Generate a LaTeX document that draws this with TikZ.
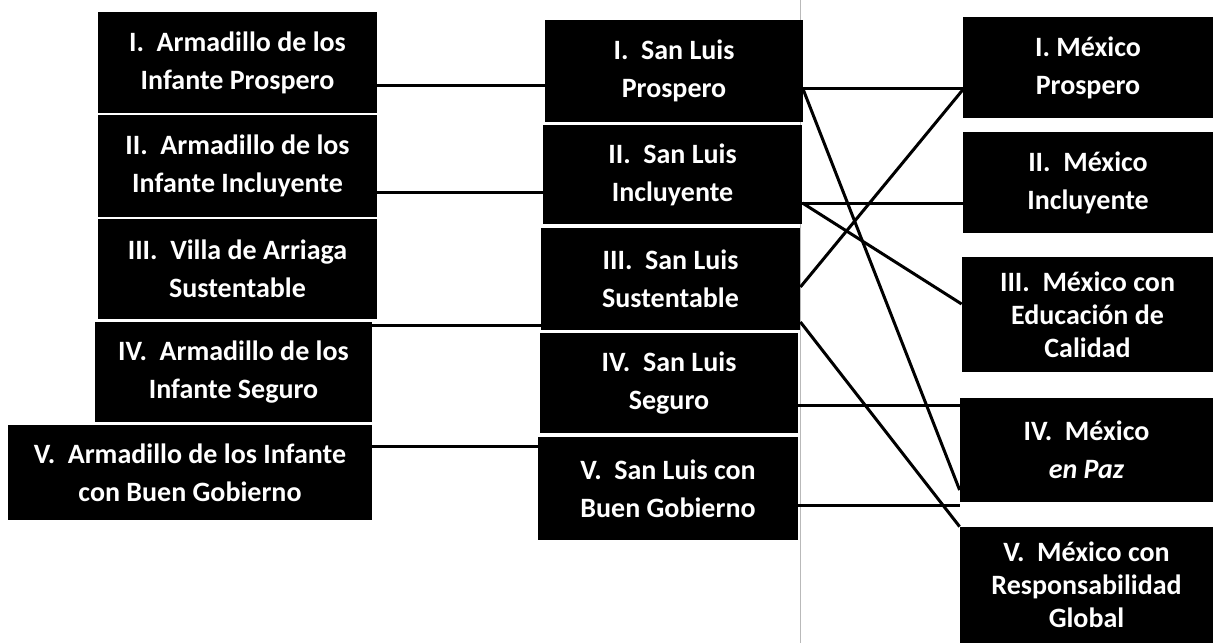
\documentclass[tikz,border=0pt]{standalone}
\usepackage{fontspec}
\setmainfont{Carlito}
\tikzset{
  box/.style={fill=black, text=white, inner sep=0pt, align=center,
    font=\fontsize{14}{19}\selectfont\bfseries},
  tightbox/.style={box, font=\fontsize{14}{16.5}\selectfont\bfseries},
  link/.style={line width=1.5pt, black},
}
\begin{document}
\begin{tikzpicture}[x=0.5pt, y=-0.5pt]
  \useasboundingbox (0,0) rectangle (1213,643);
  % Gutter of the scan
  \draw[gray!55, line width=0.4pt] (800,0) -- (800,643);

  % Armadillo de los Infante
  \node[box, minimum width=139.5pt, minimum height=50.5pt] (arm1) at (237.5,62.5) {I.\hspace{0.45em}Armadillo de los\\Infante Prospero};
  \node[box, minimum width=139.5pt, minimum height=51pt] (arm2) at (237.5,166) {II.\hspace{0.45em}Armadillo de los\\Infante Incluyente};
  \node[box, minimum width=139.5pt, minimum height=50pt] (arm3) at (237.5,269) {III.\hspace{0.45em}Villa de Arriaga\\Sustentable};
  \node[box, minimum width=138.5pt, minimum height=50pt] (arm4) at (233.5,372) {IV.\hspace{0.45em}Armadillo de los\\Infante Seguro};
  \node[box, minimum width=182pt, minimum height=47.5pt] (arm5) at (190,472.5) {V.\hspace{0.45em}Armadillo de los Infante\\con Buen Gobierno};

  % San Luis
  \node[box, minimum width=129pt, minimum height=51pt] (slp1) at (674,71) {I.\hspace{0.45em}San Luis\\Prospero};
  \node[box, minimum width=129.5pt, minimum height=49.5pt] (slp2) at (672.5,174.5) {II.\hspace{0.45em}San Luis\\Incluyente};
  \node[box, minimum width=129.5pt, minimum height=51pt] (slp3) at (670.5,279) {III.\hspace{0.45em}San Luis\\Sustentable};
  \node[box, minimum width=129pt, minimum height=50pt] (slp4) at (669,383) {IV.\hspace{0.45em}San Luis\\Seguro};
  \node[box, minimum width=130pt, minimum height=51.5pt] (slp5) at (668,488.5) {V.\hspace{0.45em}San Luis con\\Buen Gobierno};

  % Mexico
  \node[box, minimum width=125pt, minimum height=50.5pt] (mex1) at (1088,67.5) {I. México\\Prospero};
  \node[box, minimum width=125pt, minimum height=50.5pt] (mex2) at (1088,182.5) {II.\hspace{0.45em}México\\Incluyente};
  \node[tightbox, minimum width=125.5pt, minimum height=57.5pt] (mex3) at (1087.5,314.5) {III.\hspace{0.45em}México con\\Educación de\\Calidad};
  \node[box, minimum width=126.5pt, minimum height=52pt] (mex4) at (1086.5,450) {IV.\hspace{0.45em}México\\\textit{en Paz}};
  \node[tightbox, minimum width=126.5pt, minimum height=58pt] (mex5) at (1086.5,585) {V.\hspace{0.45em}México con\\Responsabilidad\\Global};

  % Links Armadillo - San Luis
  \draw[link] ([yshift=-11.25pt]arm1.east) -- ([yshift=-11.25pt]arm1.east -| slp1.west);
  \draw[link] ([yshift=-13pt]arm2.east) -- ([yshift=-13pt]arm2.east -| slp2.west);
  \draw[link] ([yshift=-2pt]arm4.north east) -- ([yshift=-2pt]arm4.north east -| slp3.west);
  \draw[link] ([yshift=13.25pt]arm5.east) -- ([yshift=13.25pt]arm5.east -| slp5.west);

  % Links San Luis - Mexico
  \draw[link] ([yshift=-8.5pt]slp1.east) -- ([yshift=-8.5pt]slp1.east -| mex1.west);
  \draw[link] ([yshift=-9.5pt]slp1.east) -- ([yshift=-20pt]mex4.west);
  \draw[link] ([yshift=-4pt]slp3.east) -- ([yshift=-11.25pt]mex1.west);
  \draw[link] ([yshift=-14.25pt]slp2.east) -- ([yshift=-14.25pt]slp2.east -| mex2.west);
  \draw[link] ([yshift=-14.25pt]slp2.east) -- ([yshift=5.25pt]mex3.west);
  \draw[link] ([yshift=-21.5pt]slp3.east) -- (mex5.north west);
  \draw[link] ([yshift=-11pt]slp4.east) -- ([yshift=-11pt]slp4.east -| mex4.west);
  \draw[link] ([yshift=-8.25pt]slp5.east) -- ([yshift=-8.25pt]slp5.east -| mex4.west);
\end{tikzpicture}
\end{document}
